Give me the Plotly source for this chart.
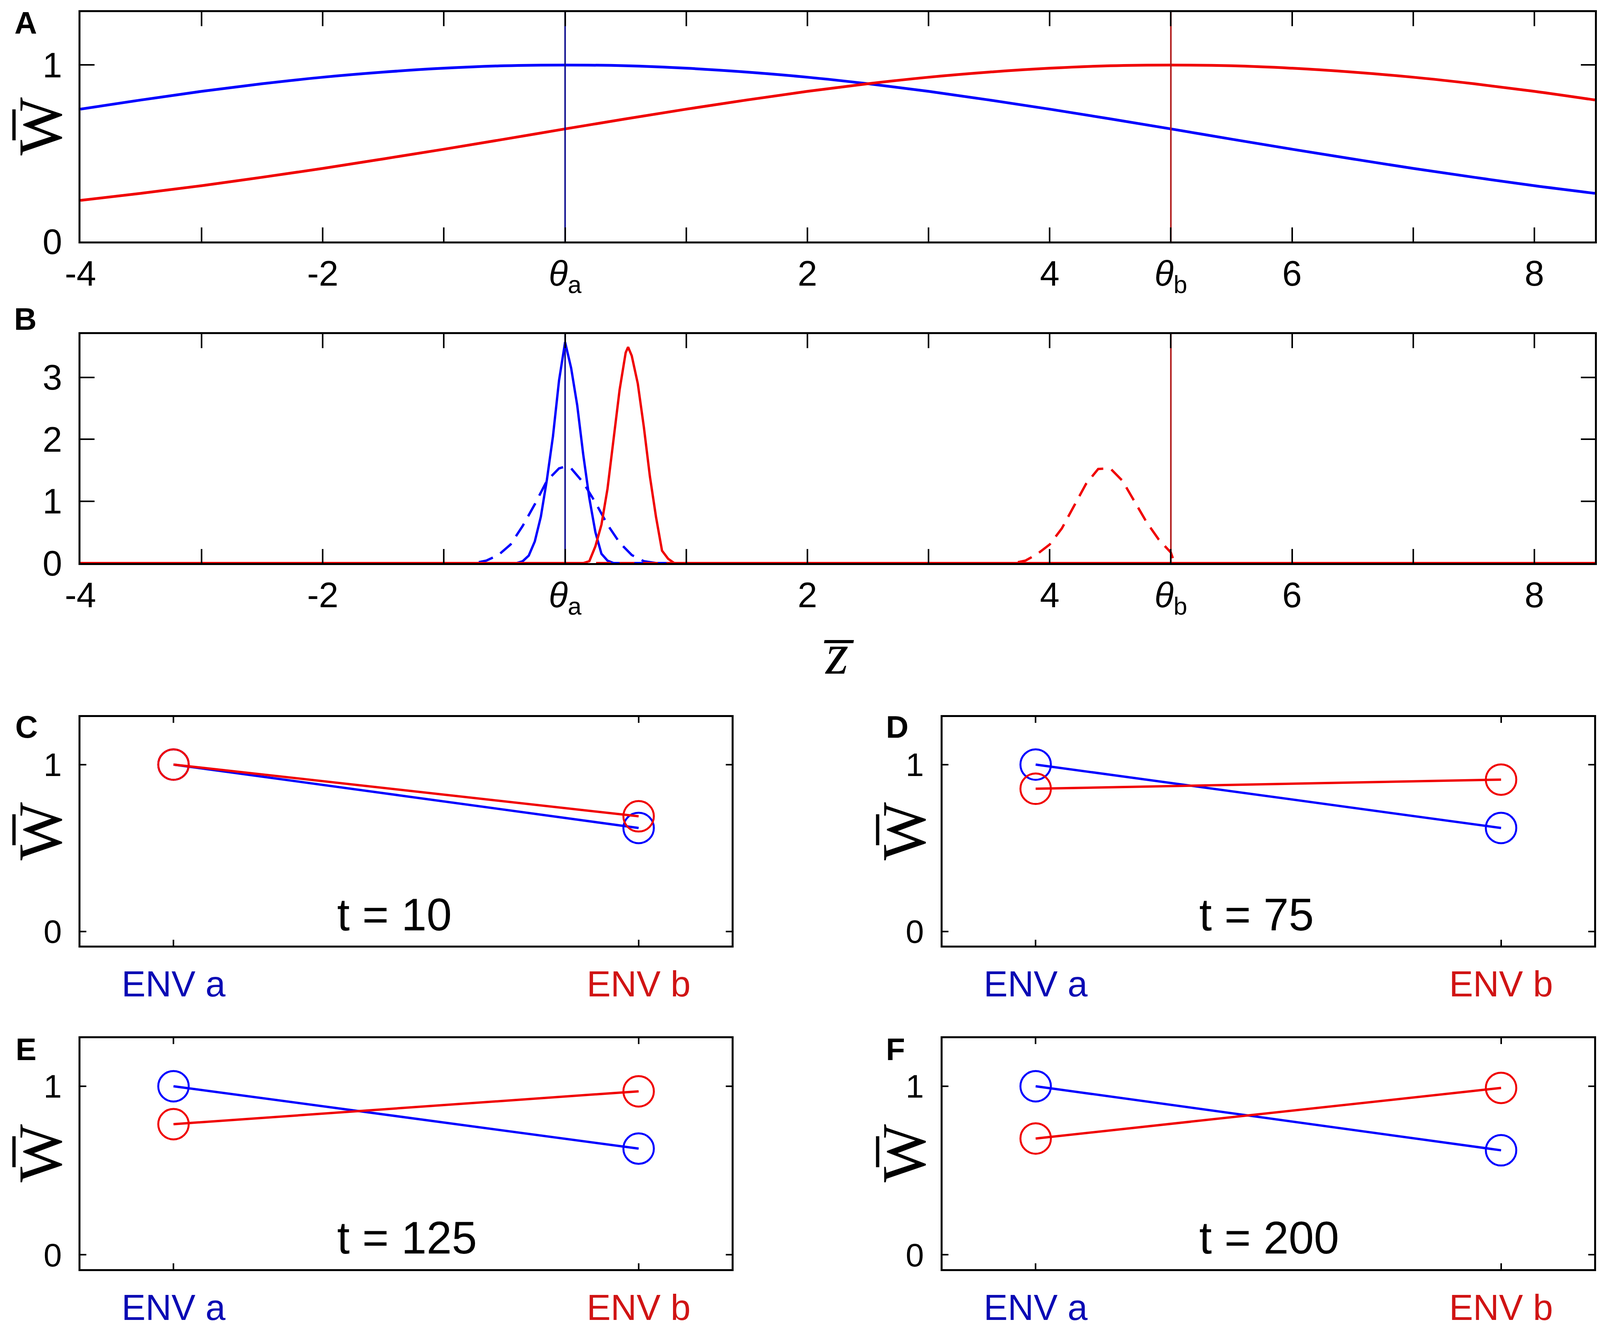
import plotly.graph_objects as go

W, H = 4116, 3414

# ---------------- data ----------------
theta = [0.0, 5.0]  # theta_a, theta_b

# Panel A: mean fitness across trait value
zA = [-4, -3.5, -3, -2.5, -2, -1.5, -1, -0.5, 0, 0.5, 1, 1.5, 2, 2.5, 3, 3.5, 4,
      4.5, 5, 5.5, 6, 6.5, 7, 7.5, 8, 8.5]
wA_blue = [0.750, 0.802, 0.851, 0.894, 0.931, 0.960, 0.982, 0.996, 1.000, 0.996, 0.982,
           0.960, 0.931, 0.894, 0.851, 0.802, 0.750, 0.695, 0.638, 0.580, 0.523, 0.468,
           0.414, 0.364, 0.316, 0.273]
wA_red = [0.233, 0.273, 0.316, 0.364, 0.414, 0.468, 0.523, 0.580, 0.638, 0.695, 0.750,
          0.802, 0.851, 0.894, 0.931, 0.960, 0.982, 0.996, 1.000, 0.996, 0.982, 0.960,
          0.931, 0.894, 0.851, 0.802]

# Panel B: trait distributions
zB_blue_solid = [-4, -0.40, -0.35, -0.30, -0.25, -0.20, -0.15, -0.10, -0.05, 0.00, 0.05,
                 0.10, 0.15, 0.20, 0.25, 0.30, 0.35, 0.40, 8.5]
pB_blue_solid = [0, 0, 0.03, 0.12, 0.35, 0.75, 1.35, 2.05, 2.95, 3.57, 3.15,
                 2.55, 1.75, 1.05, 0.50, 0.15, 0.04, 0, 0]
zB_blue_dash = [-4, -0.75, -0.65, -0.55, -0.45, -0.35, -0.25, -0.15, -0.05, 0.00, 0.05,
                0.15, 0.25, 0.35, 0.45, 0.55, 0.65, 0.75, 8.5]
pB_blue_dash = [0, 0, 0.04, 0.13, 0.30, 0.60, 0.95, 1.33, 1.53, 1.56, 1.53,
                1.30, 0.98, 0.62, 0.33, 0.13, 0.03, 0, 0]
zB_red_solid = [-4, 0.15, 0.20, 0.25, 0.30, 0.35, 0.40, 0.45, 0.50, 0.52, 0.55, 0.60,
                0.65, 0.70, 0.75, 0.80, 0.85, 0.90, 8.5]
pB_red_solid = [0, 0, 0.03, 0.27, 0.62, 1.20, 2.00, 2.80, 3.40, 3.49, 3.35, 2.90,
                2.20, 1.40, 0.75, 0.20, 0.07, 0, 0]
zB_red_dash = [-4, 3.70, 3.80, 3.90, 4.00, 4.10, 4.20, 4.30, 4.40, 4.50, 4.60, 4.70,
               4.80, 4.90, 5.00, 5.03, 8.5]
pB_red_dash = [0, 0, 0.04, 0.15, 0.30, 0.56, 0.92, 1.28, 1.52, 1.53, 1.33, 1.00,
               0.66, 0.38, 0.17, 0, 0]

# Panels C-F: mean fitness in each environment
env = [1, 2]
env_labels = ["ENV a", "ENV b"]
times = ["t = 10", "t = 75", "t = 125", "t = 200"]
w_blue = [[1.0, 0.62], [1.0, 0.62], [1.0, 0.63], [1.0, 0.62]]
w_red = [[1.0, 0.69], [0.855, 0.91], [0.775, 0.97], [0.69, 0.99]]

xA_ticks = [-4, -2, 0, 2, 4, 5, 6, 8]
xA_text = ["-4", "-2", "<i>θ</i><sub>a</sub>", "2", "4", "<i>θ</i><sub>b</sub>", "6", "8"]
xA_minor = [-3, -1, 1, 3, 7]

# ---------------- style ----------------
BLUE = "#0000ff"
RED = "#f00000"
VBLUE = "#101090"
VRED = "#b01818"
SERIF = "Liberation Serif"
SANS = "Liberation Sans"


def xd(l, r):
    return [l / W, r / W]


def yd(t, b):
    return [1 - b / H, 1 - t / H]


fig = go.Figure()

# Panel A
fig.add_trace(go.Scatter(x=zA, y=wA_blue, mode="lines", line=dict(color=BLUE, width=7, shape="spline"),
                         xaxis="x", yaxis="y"))
fig.add_trace(go.Scatter(x=zA, y=wA_red, mode="lines", line=dict(color=RED, width=7, shape="spline"),
                         xaxis="x", yaxis="y"))
fig.add_trace(go.Scatter(x=[theta[0], theta[0]], y=[0, 1.3], mode="lines",
                         line=dict(color=VBLUE, width=4), xaxis="x", yaxis="y"))
fig.add_trace(go.Scatter(x=[theta[1], theta[1]], y=[0, 1.3], mode="lines",
                         line=dict(color=VRED, width=4), xaxis="x", yaxis="y"))

# Panel B
fig.add_trace(go.Scatter(x=[theta[0], theta[0]], y=[0, 3.7], mode="lines",
                         line=dict(color=VBLUE, width=4), xaxis="x2", yaxis="y2"))
fig.add_trace(go.Scatter(x=[theta[1], theta[1]], y=[0, 3.7], mode="lines",
                         line=dict(color=VRED, width=4), xaxis="x2", yaxis="y2"))
fig.add_trace(go.Scatter(x=zB_blue_solid, y=pB_blue_solid, mode="lines",
                         line=dict(color=BLUE, width=6), xaxis="x2", yaxis="y2"))
fig.add_trace(go.Scatter(x=zB_blue_dash, y=pB_blue_dash, mode="lines",
                         line=dict(color=BLUE, width=6, dash="38px,22px"), xaxis="x2", yaxis="y2"))
fig.add_trace(go.Scatter(x=zB_red_solid, y=pB_red_solid, mode="lines",
                         line=dict(color=RED, width=6), xaxis="x2", yaxis="y2"))
fig.add_trace(go.Scatter(x=zB_red_dash, y=pB_red_dash, mode="lines",
                         line=dict(color=RED, width=6, dash="38px,22px"), xaxis="x2", yaxis="y2"))

# Panels C-F
for i in range(4):
    xa = "x%d" % (i + 3)
    ya = "y%d" % (i + 3)
    fig.add_trace(go.Scatter(x=env, y=w_blue[i], mode="lines+markers",
                             line=dict(color=BLUE, width=6),
                             marker=dict(symbol="circle-open", size=78, color=BLUE, line=dict(width=5)),
                             xaxis=xa, yaxis=ya))
    fig.add_trace(go.Scatter(x=env, y=w_red[i], mode="lines+markers",
                             line=dict(color=RED, width=6),
                             marker=dict(symbol="circle-open", size=78, color=RED, line=dict(width=5)),
                             xaxis=xa, yaxis=ya))

axis_common = dict(showline=True, linecolor="black", linewidth=5, mirror="ticks",
                   ticks="inside", tickcolor="black", tickwidth=4, showgrid=False,
                   zeroline=False, fixedrange=True, automargin=False)

layout = dict(
    template="none",
    width=W, height=H, margin=dict(l=0, r=0, t=0, b=0, autoexpand=False),
    paper_bgcolor="white", plot_bgcolor="white", showlegend=False,
)

# A and B axes
for k, (dom_y, yr, yt) in enumerate([(yd(23, 610), [0, 1.3], [0, 1]),
                                     (yd(847, 1433), [0, 3.7], [0, 1, 2, 3])]):
    sx = "" if k == 0 else "2"
    layout["xaxis" + sx] = dict(axis_common, domain=xd(198, 4075), range=[-4, 8.5],
                                tickvals=xA_ticks, ticktext=xA_text, ticklen=36,
                                minor=dict(tickvals=xA_minor, ticks="inside", ticklen=36,
                                           tickwidth=4, tickcolor="black", showgrid=False),
                                tickfont=dict(family=SANS, size=90, color="black"),
                                ticklabelstandoff=0, anchor="y" + sx)
    layout["yaxis" + sx] = dict(axis_common, domain=dom_y, range=yr, tickvals=yt,
                                ticklen=36, tickfont=dict(family=SANS, size=90, color="black"),
                                ticklabelstandoff=24, anchor="x" + sx)

small_dom = [(xd(198, 1865), yd(1827, 2412)), (xd(2405, 4073), yd(1827, 2412)),
             (xd(198, 1865), yd(2649, 3240)), (xd(2405, 4073), yd(2649, 3240))]
env_text = ['<span style="color:#0a0ab4">%s</span>' % env_labels[0],
            '<span style="color:#d01414">%s</span>' % env_labels[1]]
for i, (dx, dy) in enumerate(small_dom):
    n = str(i + 3)
    layout["xaxis" + n] = dict(axis_common, domain=dx, range=[0.8, 2.2], tickvals=env,
                               ticktext=env_text, ticklen=15,
                               tickfont=dict(family=SANS, size=92, color="black"),
                               ticklabelstandoff=15, anchor="y" + n)
    layout["yaxis" + n] = dict(axis_common, domain=dy, range=[-0.085, 1.285], tickvals=[0, 1],
                               ticklen=15, tickfont=dict(family=SANS, size=84, color="black"),
                               ticklabelstandoff=26, anchor="x" + n)

fig.update_layout(**layout)

ann = []
# panel letters
for lab, px, py in [("A", 58, 50), ("B", 57, 808), ("C", 60, 1852), ("D", 2289, 1852),
                    ("E", 58, 2677), ("F", 2284, 2677)]:
    ann.append(dict(text="<b>%s</b>" % lab, x=px / W, y=1 - py / H, xref="paper", yref="paper",
                    xanchor="center", yanchor="middle", showarrow=False,
                    font=dict(family=SANS, size=80, color="black")))
# y titles
for px, py in [(95, 316), (95, 2120), (2306, 2120), (95, 2944), (2306, 2944)]:
    ann.append(dict(text="W\u0305", x=px / W, y=1 - py / H, xref="paper", yref="paper",
                    xanchor="center", yanchor="middle", showarrow=False, textangle=-90,
                    font=dict(family=SERIF, size=158, color="black")))
# x title of B
ann.append(dict(text="<i>z\u0305</i>", x=2139 / W, y=1 - 1665 / H, xref="paper", yref="paper",
                xanchor="center", yanchor="middle", showarrow=False,
                font=dict(family=SERIF, size=150, color="black")))
# time labels
for i in range(4):
    n = str(i + 3)
    ann.append(dict(text=times[i], x=1.35, y=0.1, xref="x" + n, yref="y" + n,
                    xanchor="left", yanchor="middle", showarrow=False,
                    font=dict(family=SANS, size=116, color="black")))
fig.update_layout(annotations=ann)

fig.write_html("out.html")
